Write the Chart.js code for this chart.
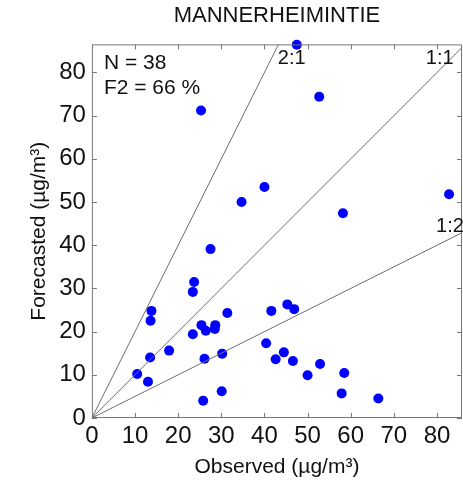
<!DOCTYPE html>
<html>
<head>
<meta charset="utf-8">
<script src="https://cdn.jsdelivr.net/npm/chart.js@4.4.1/dist/chart.umd.min.js"></script>
<style>
  html, body { margin: 0; padding: 0; background: #fff; }
  #chart { display: block; }
</style>
</head>
<body>
<canvas id="chart" width="463" height="481"></canvas>
<script>
// observed vs forecasted concentrations (ug/m3), one entry per day
const observed = [47.5, 25.3, 40.0, 34.7, 52.7, 82.8, 58.2, 27.5, 23.7, 23.4, 13.8, 13.6, 31.4,
    41.6, 25.4, 28.6, 28.5, 26.4, 23.4, 17.9, 40.4, 13.5, 26.1, 30.2, 10.5, 13.0, 30.1, 25.8,
    42.6, 45.3, 46.9, 44.5, 46.6, 52.9, 50.0, 58.5, 57.9, 66.4];
const forecasted = [86.4, 71.2, 53.5, 50.0, 74.4, 51.8, 47.4, 39.1, 31.5, 29.2, 24.8, 22.5, 24.3,
    24.8, 21.5, 21.5, 20.6, 20.2, 19.4, 15.6, 17.3, 14.0, 13.7, 14.9, 10.2, 8.4, 6.2, 4.0,
    13.6, 26.3, 25.2, 15.2, 13.2, 12.5, 9.9, 10.4, 5.7, 4.5];
const ratios = [2, 1, 0.5];
const ratioLabels = ['2:1', '1:1', '1:2'];
const tickValues = [0, 10, 20, 30, 40, 50, 60, 70, 80];
const xMax = 85.8;
const yMax = 86.5;

const FONT = "'Liberation Sans', Arial, Helvetica, sans-serif";

const points = observed.map((x, i) => ({ x: x, y: forecasted[i] }));

// reference lines through the origin, cut off by the plot box
const ratioSets = ratios.map(r => ({
    type: 'line',
    data: [{ x: 0, y: 0 }, { x: 200, y: 200 * r }],
    borderColor: '#6e6e6e',
    borderWidth: 1,
    pointRadius: 0,
    fill: false
}));

// matlab style box with inward ticks, plus the text labels
const boxPlugin = {
    id: 'box',
    afterDatasetsDraw(chart) {
        const { ctx, chartArea: a, scales } = chart;
        const sx = scales.x, sy = scales.y;
        ctx.save();
        ctx.strokeStyle = '#777';
        ctx.lineWidth = 1;
        ctx.strokeRect(a.left + 0.5, a.top + 0.5, a.right - a.left - 1, a.bottom - a.top - 1);
        ctx.beginPath();
        tickValues.forEach(v => {
            const px = Math.round(sx.getPixelForValue(v)) + 0.5;
            ctx.moveTo(px, a.bottom); ctx.lineTo(px, a.bottom - 5);
            ctx.moveTo(px, a.top); ctx.lineTo(px, a.top + 5);
            const py = Math.round(sy.getPixelForValue(v)) + 0.5;
            ctx.moveTo(a.left, py); ctx.lineTo(a.left + 5, py);
            ctx.moveTo(a.right, py); ctx.lineTo(a.right - 5, py);
        });
        ctx.stroke();

        ctx.fillStyle = '#111';
        ctx.textBaseline = 'alphabetic';
        ctx.textAlign = 'left';
        ctx.font = '21px ' + FONT;
        ctx.fillText('N = 38', a.left + 12, a.top + 25);
        ctx.fillText('F2 = 66 %', a.left + 12, a.top + 50);

        ctx.font = '20px ' + FONT;
        const labelPos = [[43.1, 81.9], [77.4, 81.9], [79.8, 43.0]];
        ratioLabels.forEach((t, i) => {
            ctx.fillText(t, sx.getPixelForValue(labelPos[i][0]), sy.getPixelForValue(labelPos[i][1]));
        });
        ctx.restore();
    }
};

new Chart(document.getElementById('chart'), {
    type: 'scatter',
    data: {
        datasets: [
            ...ratioSets,
            {
                type: 'scatter',
                data: points,
                backgroundColor: '#0000ff',
                borderWidth: 0,
                pointRadius: 5,
                pointHoverRadius: 5,
                clip: false
            }
        ]
    },
    options: {
        responsive: false,
        animation: false,
        devicePixelRatio: 1,
        layout: { autoPadding: false, padding: { left: 0, right: 1, top: 0, bottom: 0 } },
        plugins: {
            legend: { display: false },
            tooltip: { enabled: false },
            title: {
                display: true,
                fullSize: false,
                text: 'MANNERHEIMINTIE',
                color: '#111',
                font: { family: FONT, size: 22, weight: 'normal' },
                padding: { top: 3, bottom: 15 }
            }
        },
        scales: {
            x: {
                type: 'linear',
                min: 0,
                max: xMax,
                grid: { display: false, drawTicks: false },
                border: { display: false },
                ticks: {
                    stepSize: 10,
                    includeBounds: false,
                    padding: 4,
                    color: '#111',
                    font: { family: FONT, size: 24 }
                },
                title: {
                    display: true,
                    text: 'Observed (µg/m³)',
                    color: '#111',
                    font: { family: FONT, size: 21 },
                    padding: { top: 0, bottom: 1 }
                }
            },
            y: {
                type: 'linear',
                min: 0,
                max: yMax,
                grid: { display: false, drawTicks: false },
                border: { display: false },
                ticks: {
                    stepSize: 10,
                    includeBounds: false,
                    padding: 6,
                    color: '#111',
                    font: { family: FONT, size: 24 }
                },
                title: {
                    display: true,
                    text: 'Forecasted (µg/m³)',
                    color: '#111',
                    font: { family: FONT, size: 21 },
                    padding: { top: 27, bottom: 1 }
                }
            }
        }
    },
    plugins: [boxPlugin]
});
</script>
</body>
</html>
